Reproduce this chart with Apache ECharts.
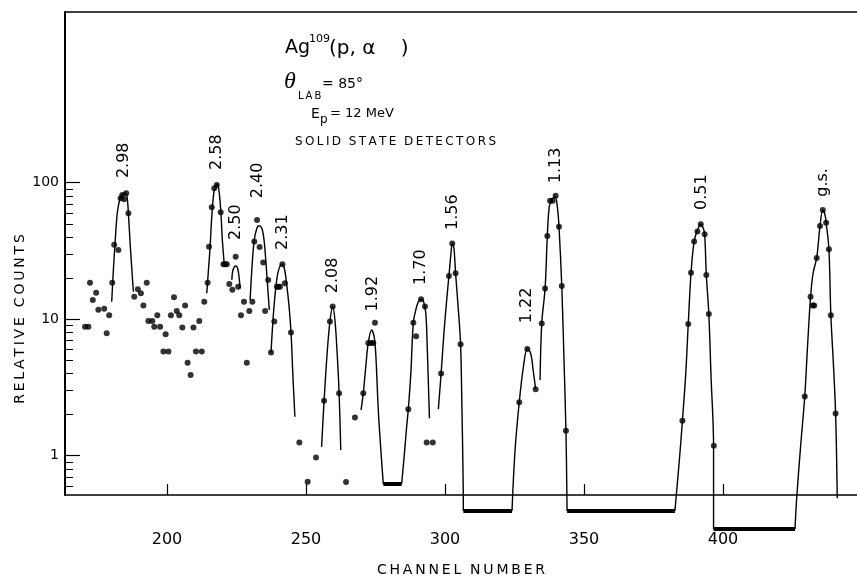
<!DOCTYPE html>
<html>
<head>
<meta charset="utf-8">
<script src="https://cdn.jsdelivr.net/npm/echarts@6/dist/echarts.min.js"></script>
<style>
  html, body { margin: 0; padding: 0; background: #fff; }
  #chart { width: 857px; height: 580px; }
</style>
</head>
<body>
<div id="chart"></div>
<script>
// Ag109(p,alpha) spectrum: channel number vs relative counts (log scale)

// measured points
const dotChannel = [170.5,171.7,172.3,173.3,174.5,175.3,177.4,178.3,179.2,180.3,
  181.0,182.5,183.3,183.9,184.6,185.3,186.1,188.2,189.5,190.6,
  191.5,192.7,193.3,194.7,195.4,196.5,197.5,198.7,199.5,200.5,
  201.4,202.5,203.5,204.4,205.5,206.5,207.4,208.5,209.5,210.4,
  211.6,212.5,213.4,214.6,215.1,216.1,217.0,217.9,219.3,220.3,
  220.9,221.5,222.4,223.5,224.7,225.6,226.6,227.7,228.7,229.6,
  230.7,231.4,232.4,233.3,234.6,235.3,236.4,237.4,238.6,239.5,
  240.0,240.6,241.5,242.4,244.6,247.6,250.6,253.6,256.5,258.6,
  259.6,261.9,264.4,267.6,270.6,272.4,273.4,274.2,274.8,286.8,
  288.6,289.6,291.4,292.8,293.4,295.6,298.6,301.4,302.6,303.8,
  305.6,326.7,329.6,332.6,334.8,336.0,336.8,337.8,338.7,339.8,
  341.0,342.0,343.5,385.4,387.5,388.5,389.6,390.8,392.0,393.4,
  394.0,394.9,396.7,429.4,431.5,432.3,432.8,433.7,434.9,435.9,
  437.1,438.1,438.8,440.5];
const dotCount = [8.8,8.8,18.5,13.8,15.6,11.7,11.9,7.9,10.7,18.5,
  35.1,32.1,76.9,81.3,75.5,83.6,59.7,14.6,16.6,15.5,
  12.6,18.5,9.7,9.7,8.8,10.7,8.8,5.8,7.75,5.8,
  10.7,14.5,11.5,10.7,8.7,12.6,4.8,3.9,8.7,5.8,
  9.7,5.8,13.4,18.5,34.0,66.0,91.0,96.2,60.7,25.3,
  25.3,25.3,18.1,16.4,28.7,17.3,10.7,13.4,4.8,11.5,
  13.4,37.0,53.3,33.8,26.0,11.5,19.4,5.7,9.6,17.3,
  17.3,17.3,25.3,18.3,8.0,1.25,0.645,0.97,2.53,9.6,
  12.4,2.87,0.64,1.9,2.87,6.7,6.7,6.7,9.4,2.19,
  9.4,7.5,14.0,12.4,1.25,1.25,4.0,20.7,35.9,21.7,
  6.55,2.46,6.05,3.07,9.3,16.8,40.7,73.8,73.8,80.3,
  47.6,17.5,1.52,1.8,9.2,21.9,37.0,43.8,49.6,41.9,
  21.1,10.9,1.18,2.71,14.6,12.6,12.6,28.1,48.2,63.1,
  50.9,32.5,10.7,2.04];

// hand-fitted peak curves, [channel, counts]
const curve298 = [[180.1,13.4],[180.7,22.9],[181.3,35.9],[182.1,59.7],[183.1,76.9],[183.9,82.2],[184.9,83.6],[185.6,78.9],[186.1,59.7],[186.8,34.0],[187.9,15.9]];
const curve258 = [[214.3,15.5],[214.9,22.9],[215.5,34.0],[216.1,56.4],[217.0,88.4],[218.1,97.8],[218.8,83.6],[219.4,59.7],[219.9,38.0],[220.6,25.3]];
const curve250 = [[223.3,19.4],[223.6,22.3],[224.2,24.2],[224.8,24.5],[225.4,23.6],[225.9,20.5],[226.3,16.8]];
const curve240 = [[229.9,13.8],[230.5,22.9],[231.3,37.0],[232.3,46.3],[233.1,48.4],[234.1,46.3],[234.9,38.0],[235.6,25.7],[236.2,17.3],[236.8,11.7]];
const curve231 = [[237.4,5.68],[238.2,10.4],[239.1,16.8],[240.0,22.3],[241.3,25.3],[242.2,23.6],[243.0,18.3],[243.9,12.4],[244.6,8.02],[245.3,3.79],[246.0,1.93]];
const curve208 = [[255.6,1.16],[256.5,2.53],[257.6,5.63],[258.6,9.59],[259.6,12.4],[260.4,9.86],[261.2,5.63],[261.9,2.87],[262.5,1.10]];
const curve192 = [[269.8,2.16],[270.6,2.87],[271.5,4.49],[272.4,6.73],[273.6,8.33],[274.6,7.25],[275.2,5.02],[276.0,2.16],[277.0,1.04],[277.8,0.62]];
const curve170 = [[284.4,0.62],[285.4,1.04],[286.2,1.63],[286.8,2.19],[287.7,4.01],[288.6,9.43],[289.5,11.7],[290.4,13.4],[291.4,14.0],[292.3,13.4],[293.1,11.0],[293.6,6.29],[294.4,1.88]];
const curve156 = [[297.6,2.19],[298.6,4.01],[299.6,7.88],[300.6,13.8],[301.4,20.7],[302.2,31.2],[302.6,35.9],[303.2,33.1],[303.8,21.7],[304.8,11.7],[305.6,6.55],[306.1,2.16],[306.5,0.7],[306.6,0.394]];
const curve122 = [[324.1,0.394],[325.2,1.10],[326.7,2.46],[328.2,4.49],[329.6,6.1],[330.8,5.63],[331.7,4.24],[332.6,3.07]];
const curve113 = [[334.2,3.59],[334.8,9.33],[336.0,16.8],[336.8,40.7],[337.5,66.7],[338.4,74.7],[339.6,78.9],[340.4,66.7],[341.0,47.6],[342.0,17.5],[342.8,5.02],[343.5,1.52],[343.8,0.6],[343.9,0.394]];
const curve051 = [[382.7,0.394],[384.3,0.93],[385.4,1.80],[386.6,4.01],[387.5,9.22],[388.5,21.9],[389.6,37.0],[390.8,45.0],[392.0,49.6],[392.9,46.3],[393.4,41.9],[394.0,21.1],[394.9,10.9],[395.7,3.79],[396.6,1.18],[396.6,0.29]];
const curveGs  = [[425.9,0.29],[426.5,0.487],[427.9,1.16],[429.4,2.71],[430.4,6.29],[431.5,14.6],[432.4,21.7],[433.7,28.1],[434.9,48.2],[435.9,63.1],[436.7,58.0],[437.1,50.9],[438.1,32.5],[438.8,10.7],[439.7,4.75],[440.5,2.04],[441.1,0.487]];
const peakCurves = [curve298, curve258, curve250, curve240, curve231, curve208, curve192, curve170, curve156, curve122, curve113, curve051, curveGs];

// flat background stretches below one count
const floorStart = [277.8, 306.6, 343.9, 396.6];
const floorEnd   = [284.4, 324.1, 382.7, 425.9];
const floorLevel = [0.62, 0.394, 0.394, 0.29];

// excitation energies (MeV) written above the peaks
const peakNames = ['2.98','2.58','2.50','2.40','2.31','2.08','1.92','1.70','1.56','1.22','1.13','0.51','g.s.'];
const peakLabelChannel = [184.3,217.9,224.7,232.5,241.6,259.8,274.0,291.3,302.8,329.4,339.9,392.3,435.9];
const peakLabelCount   = [108,124,38,76.9,32.1,15.5,11.4,17.8,45,9.33,99,63.1,78.9];

// axes
const xTicks = [200, 250, 300, 350, 400];
const yTicks = [1, 10, 100];
const yMinorTicks = [0.6,0.7,0.8,0.9,2,3,4,5,6,7,8,9,20,30,40,50,60,70,80,90];
const xRange = [163.3, 448.2];
const yRange = [0.515, 1780];

const INK = '#000';
const SANS = '"DejaVu Sans", sans-serif';
const spaced = s => s.split('').join('\u2009');

const chart = echarts.init(document.getElementById('chart'), null, { renderer: 'canvas' });

const series = [];
peakCurves.forEach(c => series.push({
  type: 'line', data: c, smooth: 0.35, symbol: 'none', clip: false, silent: true,
  lineStyle: { color: INK, width: 1.4 }
}));
floorStart.forEach((s, i) => series.push({
  type: 'line', data: [[s, floorLevel[i]], [floorEnd[i], floorLevel[i]]], symbol: 'none',
  clip: false, silent: true, lineStyle: { color: INK, width: 4, cap: 'butt' }
}));
series.push({
  type: 'scatter', data: dotChannel.map((c, i) => [c, dotCount[i]]),
  symbol: 'circle', symbolSize: 6, clip: false, silent: true,
  itemStyle: { color: INK }
});

function textEl(text, x, y, font, extra) {
  return Object.assign({
    type: 'text', x: x, y: y, silent: true,
    style: { text: text, font: font, fill: INK, align: 'left', verticalAlign: 'middle' }
  }, extra || {});
}

const titleGraphics = [
  textEl('Ag', 285, 48, '19px ' + SANS),
  textEl('109', 309, 39, '11px ' + SANS),
  textEl('(p, α    )', 329, 49, '20px ' + SANS),
  textEl('θ', 284, 82, 'italic 24px "Liberation Serif", serif'),
  textEl(spaced('LAB'), 298, 96, '10px ' + SANS),
  textEl('= 85°', 322, 84, '14px ' + SANS),
  textEl('E', 311, 114, '14px ' + SANS),
  textEl('p', 320, 120, '12px ' + SANS),
  textEl('= 12 MeV', 330, 114, '13px ' + SANS),
  textEl(spaced('SOLID') + '  ' + spaced('STATE') + '  ' + spaced('DETECTORS'), 295, 142, '12px ' + SANS),
  Object.assign(textEl(spaced('RELATIVE COUNTS'), 20, 319, '14px ' + SANS), { rotation: Math.PI / 2 })
];
titleGraphics.forEach(g => { if (g.rotation) g.style.align = 'center'; });

const option = {
  animation: false,
  backgroundColor: '#fff',
  grid: { left: 65, right: 0, top: 12, bottom: 85, containLabel: false, outerBoundsMode: 'none' },
  xAxis: [{
    type: 'value', min: xRange[0], max: xRange[1], position: 'bottom',
    axisLine: { show: true, onZero: false, lineStyle: { color: INK, width: 1.5 } },
    axisTick: { show: true, inside: true, length: 11, customValues: xTicks, lineStyle: { color: INK, width: 1.2 } },
    axisLabel: { customValues: xTicks, margin: 37, color: INK, fontFamily: SANS, fontSize: 16 },
    splitLine: { show: false },
    name: spaced('CHANNEL') + '  ' + spaced('NUMBER'), nameLocation: 'middle', nameGap: 68,
    nameTextStyle: { color: INK, fontFamily: SANS, fontSize: 14 }
  }, {
    type: 'value', min: xRange[0], max: xRange[1], position: 'top',
    axisLine: { show: true, onZero: false, lineStyle: { color: INK, width: 1.5 } },
    axisTick: { show: false }, axisLabel: { show: false }, splitLine: { show: false }
  }],
  yAxis: [{
    type: 'log', logBase: 10, min: yRange[0], max: yRange[1], position: 'left',
    axisLine: { show: true, onZero: false, lineStyle: { color: INK, width: 2 } },
    axisTick: { show: true, inside: true, length: 15, customValues: yTicks, lineStyle: { color: INK, width: 1.2 } },
    axisLabel: { customValues: yTicks, margin: 6, color: INK, fontFamily: SANS, fontSize: 14 },
    splitLine: { show: false }, minorTick: { show: false }
  }, {
    type: 'log', logBase: 10, min: yRange[0], max: yRange[1], position: 'left',
    axisLine: { show: false },
    axisTick: { show: true, inside: true, length: 8, customValues: yMinorTicks, lineStyle: { color: INK, width: 1 } },
    axisLabel: { show: false }, splitLine: { show: false }
  }],
  series: series,
  graphic: titleGraphics
};

chart.setOption(option);

// energy labels, anchored to the peaks through the axis scales
const peakGraphics = peakNames.map((name, i) => {
  const p = chart.convertToPixel({ xAxisIndex: 0, yAxisIndex: 0 }, [peakLabelChannel[i], peakLabelCount[i]]);
  return Object.assign(textEl(name, p[0], p[1], '16px ' + SANS), { rotation: Math.PI / 2 });
});
option.graphic = titleGraphics.concat(peakGraphics);
chart.setOption(option, true);
</script>
</body>
</html>
